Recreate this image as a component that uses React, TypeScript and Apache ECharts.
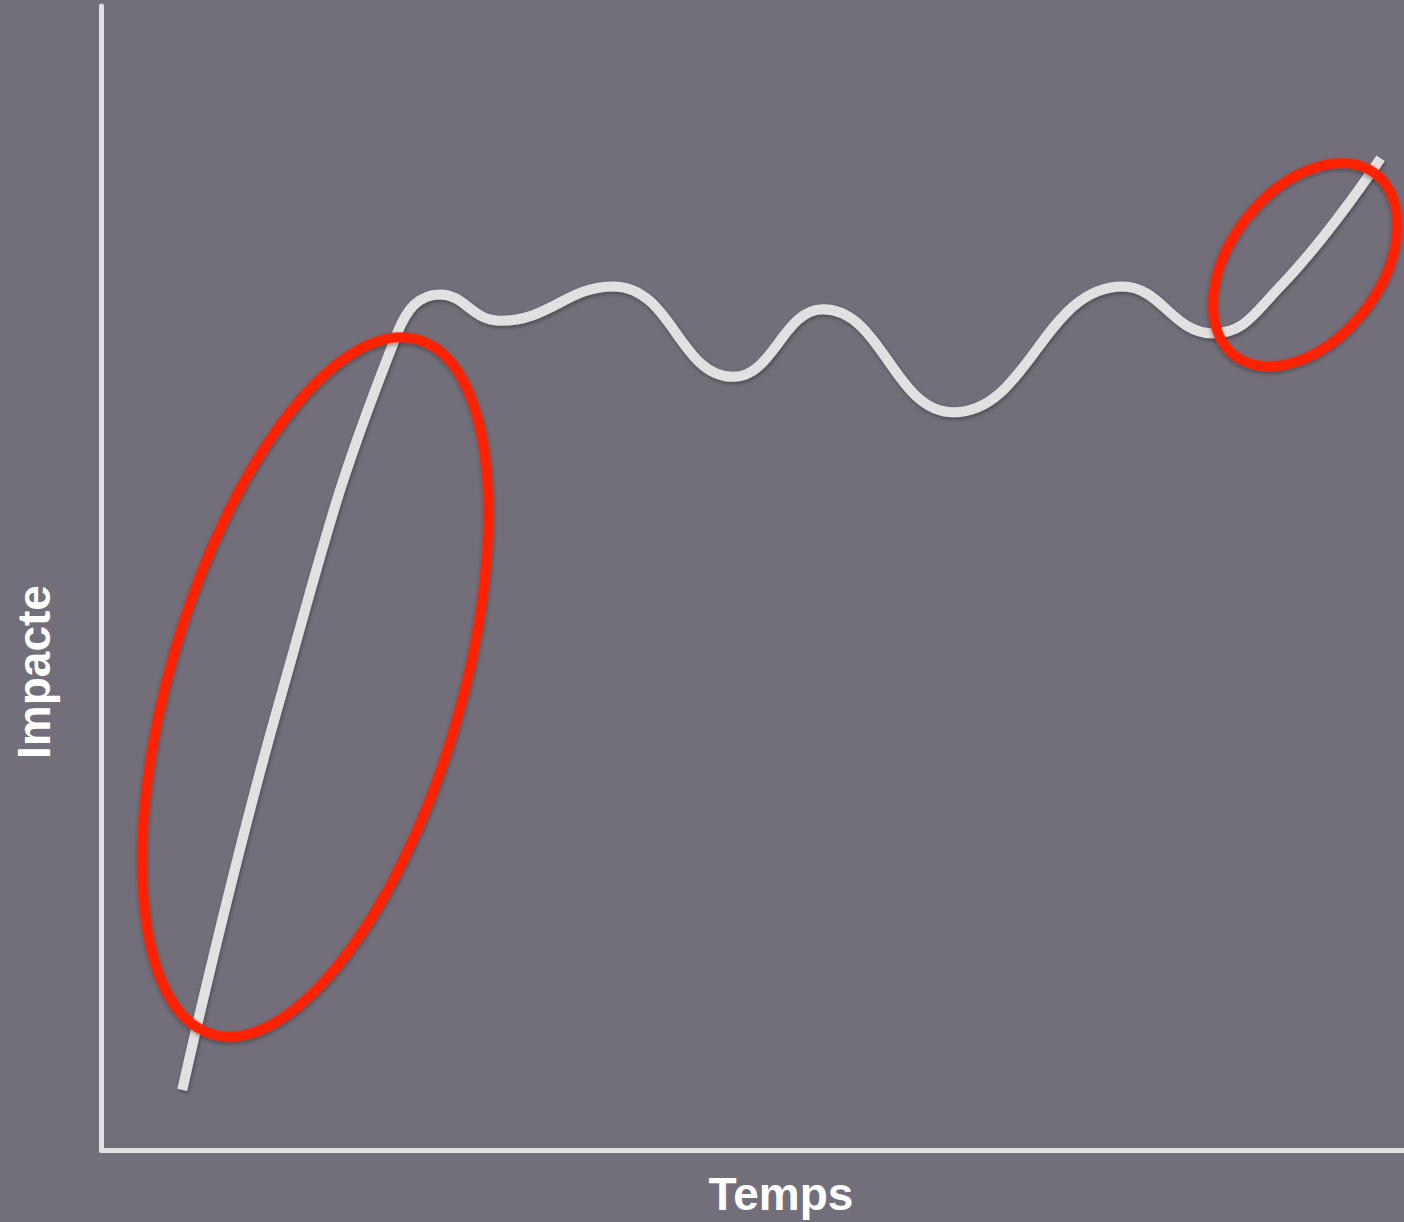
import React, { useEffect, useRef } from "react";
import * as echarts from "echarts";

// Temps (x) and Impacte (y) on a 0–100 scale
const tempsValues = [
  6.2, 13.7, 22.7, 26.0, 30.6, 39.3, 48.5, 55.4, 65.4, 78.4, 85.3, 90.5, 98.2,
];
const impacteValues = [
  5.3, 39.4, 71.4, 74.8, 72.5, 75.5, 67.6, 73.5, 64.5, 75.5, 71.4, 75.5, 86.7,
];

// Highlighted zones (centre in data values, radii in px, tilt in radians)
const highlightCentres = [
  [16.4, 40.5],
  [92.4, 77.4],
];
const highlightRadii = [
  [145, 362],
  [75, 115],
];
const highlightTilts = [-0.289, -0.663];

const axisTitles = { x: "Temps", y: "Impacte" };

export default function App() {
  const ref = useRef<HTMLDivElement>(null);
  useEffect(() => {
    if (!ref.current) return;
    const chart = echarts.init(ref.current, null, { renderer: "svg" });
    const lineData = tempsValues.map((t, i) => [t, impacteValues[i]]);
    const axisLineStyle = { color: "#e1e1e1", width: 5 };
    const nameStyle = {
      fill: "#ffffff",
      fontFamily: "Liberation Sans, Arial, sans-serif",
      fontWeight: "bold",
      fontSize: 46,
    };
    chart.setOption({
      animation: false,
      backgroundColor: "#736f7a",
      grid: { left: 101.5, right: 0, top: 6, bottom: 71.5 },
      xAxis: {
        type: "value",
        min: 0,
        max: 100,
        axisLine: { show: true, onZero: false, lineStyle: axisLineStyle },
        axisTick: { show: false },
        axisLabel: { show: false },
        splitLine: { show: false },
      },
      yAxis: {
        type: "value",
        min: 0,
        max: 100,
        axisLine: { show: true, onZero: false, lineStyle: axisLineStyle },
        axisTick: { show: false },
        axisLabel: { show: false },
        splitLine: { show: false },
      },
      series: [
        {
          type: "line",
          data: lineData,
          smooth: 0.45,
          showSymbol: false,
          symbol: "none",
          lineStyle: {
            color: "#e1e1e1",
            width: 10,
            cap: "butt",
            shadowColor: "rgba(0,0,0,0.35)",
            shadowBlur: 4,
            shadowOffsetX: 1,
            shadowOffsetY: 2,
          },
        },
      ],
    });
    const ellipses = highlightCentres.map((c, i) => {
      const p = chart.convertToPixel({ gridIndex: 0 }, c) as number[];
      return {
        type: "ellipse",
        x: p[0],
        y: p[1],
        rotation: highlightTilts[i],
        shape: { cx: 0, cy: 0, rx: highlightRadii[i][0], ry: highlightRadii[i][1] },
        style: {
          fill: "none",
          stroke: "#ff2200",
          lineWidth: 10,
          shadowColor: "rgba(0,0,0,0.35)",
          shadowBlur: 4,
          shadowOffsetX: 1,
          shadowOffsetY: 2,
        },
        z: 10,
      };
    });
    chart.setOption({
      graphic: [
        ...ellipses,
        {
          type: "text",
          x: 781,
          y: 1170.5,
          style: { ...nameStyle, text: axisTitles.x, align: "center", verticalAlign: "top" },
        },
        {
          type: "text",
          x: 10.5,
          y: 672,
          rotation: Math.PI / 2,
          style: { ...nameStyle, text: axisTitles.y, align: "center", verticalAlign: "top" },
        },
      ],
    });
    return () => chart.dispose();
  }, []);
  return (
    <div
      ref={ref}
      style={{ position: "absolute", left: 0, top: 0, width: 1404, height: 1222 }}
    />
  );
}
